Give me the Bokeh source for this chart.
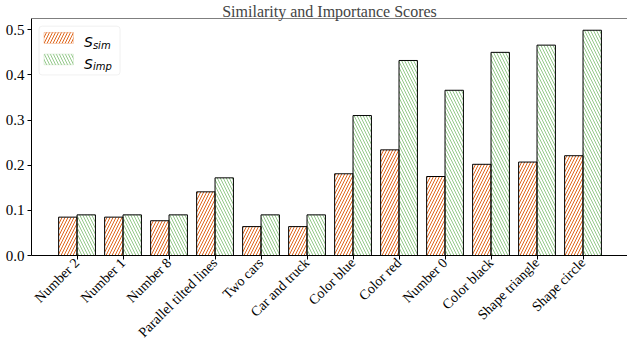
from bokeh.plotting import figure
from bokeh.models import (ColumnDataSource, FixedTicker, NumeralTickFormatter,
                          Range1d, BoxAnnotation, Label, Span)
from bokeh.transform import dodge
from bokeh.embed import file_html
from bokeh.resources import INLINE

# Concepts and their scores
categories = ["Number 2", "Number 1", "Number 8", "Parallel tilted lines",
              "Two cars", "Car and truck", "Color blue", "Color red",
              "Number 0", "Color black", "Shape triangle", "Shape circle"]
s_sim = [0.085, 0.085, 0.077, 0.141, 0.064, 0.064,
         0.181, 0.234, 0.175, 0.202, 0.207, 0.221]
s_imp = [0.090, 0.090, 0.090, 0.172, 0.090, 0.090,
         0.310, 0.432, 0.366, 0.450, 0.466, 0.499]
y_ticks = [0.0, 0.1, 0.2, 0.3, 0.4, 0.5]

SIM_COLOR = "#E0661C"
IMP_COLOR = "#94C98A"
SERIF = "Liberation Serif"

idx = list(range(len(categories)))
src = ColumnDataSource(dict(idx=idx, sim=s_sim, imp=s_imp))

p = figure(width=627, height=349, output_backend="svg", toolbar_location=None,
           x_range=Range1d(-0.99, 11.967), y_range=Range1d(0, 0.525),
           min_border_left=31, min_border_right=0, min_border_top=18,
           min_border_bottom=94)
p.outline_line_color = None
p.grid.visible = False
p.background_fill_color = "white"

p.title.text = "Similarity and Importance Scores"
p.title.align = "center"
p.title.text_font = SERIF
p.title.text_font_style = "normal"
p.title.text_font_size = "16px"
p.title.offset = 0
p.title.standoff = -2

bar_w = 0.4
p.vbar(x=dodge("idx", -bar_w / 2), top="sim", width=bar_w, source=src,
       fill_color=None, line_color="black", line_width=1,
       hatch_pattern="/", hatch_color=SIM_COLOR, hatch_scale=6, hatch_weight=1)
p.vbar(x=dodge("idx", bar_w / 2), top="imp", width=bar_w, source=src,
       fill_color=None, line_color="black", line_width=1,
       hatch_pattern="\\", hatch_color=IMP_COLOR, hatch_scale=6, hatch_weight=1)

# top spine
p.add_layout(Span(location=0.525, dimension="width", line_color="black", line_width=1))

for ax in (p.xaxis[0], p.yaxis[0]):
    ax.axis_line_color = "black"
    ax.axis_line_width = 1
    ax.major_tick_out = 4
    ax.major_tick_in = 0
    ax.minor_tick_line_color = None
    ax.major_label_text_font = SERIF
    ax.major_label_text_font_size = "15px"
    ax.major_label_text_color = "black"
    ax.major_label_standoff = 3

p.xaxis[0].major_label_text_font_size = "14px"
p.xaxis[0].major_label_standoff = 1
p.yaxis[0].ticker = FixedTicker(ticks=y_ticks)
p.yaxis[0].formatter = NumeralTickFormatter(format="0.0")
p.xaxis[0].ticker = FixedTicker(ticks=idx)
p.xaxis[0].major_label_overrides = {i: c for i, c in enumerate(categories)}
p.xaxis[0].major_label_orientation = 0.785398

# legend frame and entries
p.add_layout(BoxAnnotation(left=-0.826, right=0.935, bottom=0.400, top=0.508,
                           fill_color="white", fill_alpha=0.8,
                           line_color="#d0d0d0", line_width=1, border_radius=3))
p.add_layout(BoxAnnotation(left=-0.717, right=-0.080, bottom=0.470, top=0.494,
                           fill_color=None, line_color=SIM_COLOR, line_width=1,
                           hatch_pattern="/", hatch_color=SIM_COLOR,
                           hatch_scale=6, hatch_weight=1))
p.add_layout(BoxAnnotation(left=-0.717, right=-0.080, bottom=0.4226, top=0.446,
                           fill_color=None, line_color=IMP_COLOR, line_width=1,
                           hatch_pattern="\\", hatch_color=IMP_COLOR,
                           hatch_scale=6, hatch_weight=1))

for base_y, sub in ((0.472, "sim"), (0.425, "imp")):
    p.add_layout(Label(x=0.152, y=base_y, text="S", text_font="DejaVu Sans",
                       text_font_style="italic", text_font_size="14px",
                       text_baseline="alphabetic", text_color="black"))
    p.add_layout(Label(x=0.345, y=base_y - 0.006, text=sub, text_font="DejaVu Sans",
                       text_font_style="italic", text_font_size="10px",
                       text_baseline="alphabetic", text_color="black"))

open("out.html", "w").write(file_html(p, INLINE))
